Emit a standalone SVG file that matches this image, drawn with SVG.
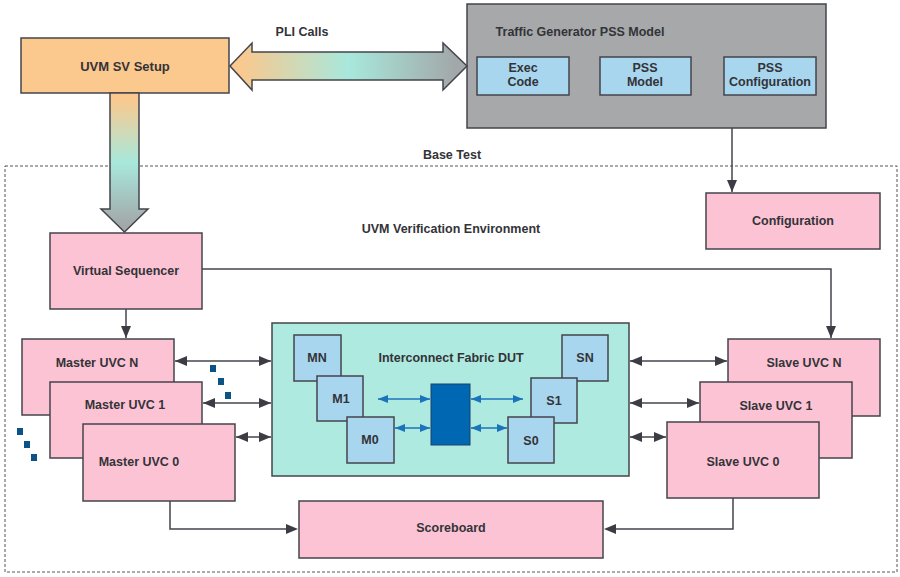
<svg xmlns="http://www.w3.org/2000/svg" width="900" height="577" viewBox="0 0 900 577">
<style>
text{font-family:"Liberation Sans",Arial,sans-serif;font-weight:bold;font-size:12.5px;fill:#333338;text-anchor:middle;dominant-baseline:central}
.box{stroke:#44444c;stroke-width:1.5}
.pink{fill:#fcc3d5}
.lb{fill:#a8d6ee}
.ln{stroke:#44444c;stroke-width:1.5;fill:none}
.bl{stroke:#1b74bb;stroke-width:1.5;fill:none}
.dot{fill:#0b5287}
.hd{fill:#3c3c44}
</style>
<defs>
<marker id="ah" markerUnits="userSpaceOnUse" markerWidth="14" markerHeight="12" refX="12" refY="5" orient="auto-start-reverse"><path d="M0,0 L12,5 L0,10 Z" fill="#3c3c44"/></marker>
<marker id="bh" markerUnits="userSpaceOnUse" markerWidth="12" markerHeight="10" refX="10" refY="4" orient="auto-start-reverse"><path d="M0,0 L10,4 L0,8 Z" fill="#1b74bb"/></marker>
<linearGradient id="gh" x1="0" y1="0" x2="1" y2="0"><stop offset="0.05" stop-color="#f9c98f"/><stop offset="0.5" stop-color="#a8e8dc"/><stop offset="0.95" stop-color="#a2a8a9"/></linearGradient>
<linearGradient id="gv" x1="0" y1="0" x2="0" y2="1"><stop offset="0.05" stop-color="#f9c98f"/><stop offset="0.5" stop-color="#a8e8dc"/><stop offset="0.95" stop-color="#a2a8a9"/></linearGradient>
</defs>
<rect width="900" height="577" fill="#fff"/>
<g id="base-test">
<rect x="5" y="166" width="892" height="406" fill="none" stroke="#555" stroke-width="1" stroke-dasharray="3,2"/>
<text x="452" y="155">Base Test</text>
<text x="451" y="229">UVM Verification Environment</text>
</g>
<g id="uvm-sv-setup"><rect class="box" x="21" y="38" width="208" height="55" fill="#fbc88e"/><text x="125" y="66" style="font-size:13px">UVM SV Setup</text></g>
<g id="traffic-gen">
<rect class="box" x="467" y="4" width="359" height="124" fill="#a6a8aa"/>
<text x="580" y="32">Traffic Generator PSS Model</text>
<rect class="box lb" x="477" y="57" width="92" height="38"/><text x="523" y="68">Exec</text><text x="523" y="82">Code</text>
<rect class="box lb" x="600" y="57" width="91" height="38"/><text x="645" y="68">PSS</text><text x="645" y="82">Model</text>
<rect class="box lb" x="724" y="57" width="92" height="38"/><text x="770" y="68">PSS</text><text x="770" y="82">Configuration</text>
</g>
<g id="configuration"><rect class="box pink" x="706" y="193" width="174" height="56"/><text x="793" y="221">Configuration</text></g>
<g id="virtual-sequencer"><rect class="box pink" x="50" y="233" width="152" height="76"/><text x="126" y="271">Virtual Sequencer</text></g>
<g id="master-uvc-n"><rect class="box pink" x="22" y="339" width="152" height="76"/><text x="97" y="363">Master UVC N</text></g>
<g id="master-uvc-1"><rect class="box pink" x="50" y="382" width="152" height="76"/><text x="125" y="405">Master UVC 1</text></g>
<g id="master-uvc-0"><rect class="box pink" x="83" y="424" width="152" height="77"/><text x="139" y="462">Master UVC 0</text></g>
<g id="master-dots"><rect class="dot" x="17" y="428" width="6" height="7"/><rect class="dot" x="24" y="441" width="6" height="7"/><rect class="dot" x="31" y="454" width="6" height="7"/></g>
<g id="between-dots"><rect class="dot" x="210" y="365" width="6" height="7"/><rect class="dot" x="218" y="378" width="6" height="7"/><rect class="dot" x="225" y="392" width="6" height="7"/></g>
<g id="slave-uvc-n"><rect class="box pink" x="728" y="339" width="152" height="77"/><text x="804" y="363">Slave UVC N</text></g>
<g id="slave-uvc-1"><rect class="box pink" x="700" y="382" width="152" height="76"/><text x="776" y="406">Slave UVC 1</text></g>
<g id="slave-uvc-0"><rect class="box pink" x="667" y="422" width="152" height="76"/><text x="743" y="462">Slave UVC 0</text></g>
<g id="scoreboard"><rect class="box pink" x="299" y="501" width="304" height="57"/><text x="451" y="528">Scoreboard</text></g>
<g id="dut">
<rect class="box" x="272" y="323" width="357" height="153" fill="#aeeadf"/>
<text x="451" y="358">Interconnect Fabric DUT</text>
<rect class="box lb" x="294" y="335" width="47" height="46"/><text x="317" y="358">MN</text>
<rect class="box lb" x="317" y="376" width="46" height="45"/><text x="341" y="399">M1</text>
<rect class="box lb" x="347" y="417" width="47" height="46"/><text x="370" y="440">M0</text>
<rect class="box lb" x="562" y="335" width="46" height="46"/><text x="585" y="358">SN</text>
<rect class="box lb" x="531" y="378" width="46" height="45"/><text x="554" y="401">S1</text>
<rect class="box lb" x="508" y="417" width="46" height="46"/><text x="531" y="441">S0</text>
<rect x="431" y="384" width="39" height="61" fill="#0068b3" stroke="#1d3f66" stroke-width="1"/>
</g>
<g id="connectors">
<polygon points="230,66 252,43 252,52 443,52 443,43 467,66 443,90 443,80 252,80 252,90" fill="url(#gh)" stroke="#44444c" stroke-width="1.5"/>
<text x="302" y="32">PLI Calls</text>
<polygon points="110,93 139,93 139,209 148,209 124.5,232 101,209 110,209" fill="url(#gv)" stroke="#44444c" stroke-width="1.5"/>
<line class="ln" x1="732" y1="128" x2="732" y2="192" marker-end="url(#ah)"/>
<line class="ln" x1="126" y1="309" x2="126" y2="338" marker-end="url(#ah)"/>
<polyline class="ln" points="202,269 831,269 831,338" marker-end="url(#ah)"/>
<line class="ln" x1="175" y1="361" x2="271" y2="361" marker-start="url(#ah)" marker-end="url(#ah)"/>
<line class="ln" x1="203" y1="403" x2="271" y2="403" marker-start="url(#ah)" marker-end="url(#ah)"/>
<line class="ln" x1="236" y1="437" x2="271" y2="437" marker-start="url(#ah)" marker-end="url(#ah)"/>
<line class="ln" x1="630" y1="361" x2="727" y2="361" marker-start="url(#ah)" marker-end="url(#ah)"/>
<line class="ln" x1="630" y1="403" x2="699" y2="403" marker-start="url(#ah)" marker-end="url(#ah)"/>
<line class="ln" x1="630" y1="437" x2="666" y2="437" marker-start="url(#ah)" marker-end="url(#ah)"/>
<polyline class="ln" points="170,501 170,529 288,529"/>
<polygon class="hd" points="298,529 286,524 286,534"/>
<polyline class="ln" points="733,498 733,529 614,529"/>
<polygon class="hd" points="604,529 616,524 616,534"/>
<line class="bl" x1="378" y1="399" x2="430" y2="399" marker-start="url(#bh)" marker-end="url(#bh)"/>
<line class="bl" x1="471" y1="399" x2="523" y2="399" marker-start="url(#bh)" marker-end="url(#bh)"/>
<line class="bl" x1="395" y1="428" x2="430" y2="428" marker-start="url(#bh)" marker-end="url(#bh)"/>
<line class="bl" x1="471" y1="428" x2="507" y2="428" marker-start="url(#bh)" marker-end="url(#bh)"/>
</g>
</svg>
